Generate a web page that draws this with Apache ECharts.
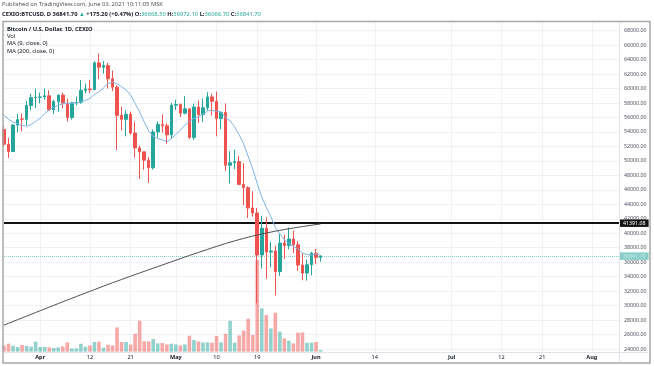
<!DOCTYPE html>
<html><head><meta charset="utf-8">
<script src="https://cdn.jsdelivr.net/npm/echarts@6/dist/echarts.min.js"></script>
<style>html,body{margin:0;padding:0;background:#fff}#c{width:654px;height:366px}</style>
</head><body><div id="c"></div>
<script>
// ---- data ----
const startDate = '2021-03-24';
const totalDays = 137; // axis runs to Aug 7
const opens  = [54350,52300,51300,54950,55800,55750,57650,58750,58800,58850,59000,57050,58200,59100,58000,56000,58050,58100,59750,59950,59850,63550,62950,63200,61350,60200,56300,55750,56450,53850,51800,51250,50100,49050,54000,55050,54850,53600,57700,57800,56600,57200,53250,57450,56400,57350,58850,58250,55850,56700,49400,49750,49900,46750,46300,43500,42800,37000,40700,37400,37550,34700,38650,38300,39200,38400,35600,34500,35650,37250,36668.5];
const highs  = [54900,53200,55100,56500,56550,58300,59300,60000,59450,60000,59750,58450,59200,59450,58600,58150,58900,61200,60700,61200,63800,64850,63800,63550,62500,60450,57500,57000,56800,55400,52100,51250,50550,54350,55450,56400,55200,58000,58450,57950,58950,57200,57900,58350,58650,59500,59300,59600,56850,57950,51350,51550,50700,49700,46500,45800,43500,42400,42200,38800,38250,39900,39800,40800,40350,38900,37250,36350,37450,37850,36972.1];
const lows   = [51900,50400,51250,53950,54100,54900,57000,57300,57950,58450,56900,56500,56800,57300,55450,55700,57650,57900,59350,59400,59800,61300,62050,60000,59650,51500,54200,53400,53650,50450,47500,48800,46950,48800,53250,53900,52350,53050,57050,56050,56450,53050,52900,55250,55400,56950,56250,53400,54400,48600,46900,48850,46650,43900,42100,42300,30300,35100,33700,35300,31400,34100,36450,37800,37250,34800,33500,33450,34200,35750,36066.7];
const closes = [52300,51300,54950,55700,55750,57650,58750,58800,58850,59000,57050,58200,59100,58000,56000,58050,58100,59750,59950,59850,63550,62950,63200,61350,60200,56300,55750,56450,53850,51800,51250,50100,49050,54000,55050,54850,53600,57700,57800,56600,57200,53250,57450,56400,57350,58850,58250,55850,56700,49400,49750,49900,46750,46300,43500,42800,37000,40700,37400,37550,34700,38650,38300,39200,38400,35600,34500,35650,37250,36666.5,36841.7];
const volumes = [60,80,60,47,67,57,50,100,47,47,43,37,43,53,93,33,33,80,50,63,97,100,40,70,63,243,97,97,70,180,310,103,103,127,83,87,73,80,73,63,73,160,117,103,93,93,90,157,93,180,310,90,163,210,330,167,917,433,367,233,390,200,133,110,83,190,193,90,90,97,17];
const ma9 = [56300,55750,55370,55130,54900,54820,55020,55470,55900,56500,57050,57400,57700,57900,57900,57950,57980,58170,58350,58650,59180,59560,60100,60680,60900,60650,60250,59800,59100,57950,56750,55400,54150,53350,53100,52920,52640,53080,53680,54250,54950,55450,55880,56120,56450,56920,57010,56850,56800,55980,55540,54700,53600,52350,50650,48900,46860,45000,43600,42300,40820,39900,39100,38600,38150,37880,37250,37050,37000,37150,36950];
const ma200 = [27300,27550,27800,28050,28300,28540,28790,29040,29290,29540,29790,30030,30280,30530,30770,31010,31250,31490,31730,31970,32210,32450,32690,32920,33150,33380,33610,33840,34060,34290,34510,34730,34950,35170,35390,35610,35830,36050,36270,36490,36710,36930,37140,37350,37560,37770,37980,38180,38380,38580,38770,38950,39120,39290,39450,39610,39760,39900,40030,40160,40280,40400,40510,40620,40730,40830,40930,41020,41110,41200,41280];
const levelLine = 41391.08;
const lastPrice = 36841.70;
const tickLabels = {'2021-04-01':'Apr','2021-04-12':'12','2021-04-21':'21','2021-05-01':'May','2021-05-10':'10','2021-05-19':'19','2021-06-01':'Jun','2021-06-14':'14','2021-07-01':'Jul','2021-07-12':'12','2021-07-21':'21','2021-08-01':'Aug'};
const monthTicks = ['Apr','May','Jun','Jul','Aug'];
const priceMin = 24000, priceMax = 68000, priceStep = 2000;
const headerLine1 = 'Published on TradingView.com, June 03, 2021 10:11:05 MSK';
const legendLines = ['Bitcoin / U.S. Dollar, 1D, CEXIO','Vol','MA (9, close, 0)','MA (200, close, 0)'];

// ---- build ----
const dates = [];
{ const d0 = new Date(startDate + 'T00:00:00Z');
  for (let i = 0; i < totalDays; i++) { const d = new Date(d0.getTime() + i*86400000); dates.push(d.toISOString().slice(0,10)); } }
const UP = '#26a69a', DOWN = '#ef5350';
const candleData = opens.map((o,i)=>[o, closes[i], lows[i], highs[i]]);
const volData = volumes.map((v,i)=>({value:v, itemStyle:{color: closes[i] >= opens[i] ? 'rgba(38,166,154,0.5)' : 'rgba(239,83,80,0.5)'}}));
const isTick = (idx, val) => tickLabels[val] !== undefined;
const FONT = 'Noto Sans';
const FS = 5.8;

const chart = echarts.init(document.getElementById('c'), null, {renderer:'canvas'});
chart.setOption({
  animation:false,
  backgroundColor:'#ffffff',
  textStyle:{fontFamily:FONT},
  grid:[
    {left:4, right:35, top:30.7, bottom:17, containLabel:false},
    {left:4, right:35, top:22, bottom:14.3, containLabel:false}
  ],
  xAxis:[
    {type:'category', gridIndex:0, data:dates, boundaryGap:false, show:false},
    {type:'category', gridIndex:1, data:dates, boundaryGap:false,
      axisLine:{show:false}, axisTick:{show:false},
      splitLine:{show:true, interval:isTick, lineStyle:{color:'#eef1f6', width:1}},
      axisLabel:{interval:isTick, margin:3, fontSize:5.6, color:'#131722', fontFamily:FONT,
        formatter:(v)=>{ const t = tickLabels[v]; if(!t) return ''; return monthTicks.includes(t) ? '{b|'+t+'}' : t; },
        rich:{b:{fontWeight:'bold', fontSize:5.6, color:'#131722', fontFamily:FONT}}}}
  ],
  yAxis:[
    {type:'value', gridIndex:0, position:'right', min:priceMin, max:priceMax, interval:priceStep,
      axisLine:{show:false}, axisTick:{show:false},
      splitLine:{show:true, lineStyle:{color:'#eef1f6', width:1}},
      axisLabel:{margin:5, fontSize:5.3, color:'#4c525e', fontFamily:FONT, formatter:(v)=>v.toFixed(2)}},
    {type:'value', gridIndex:1, min:0, max:3297, show:false, splitLine:{show:false}}
  ],
  series:[
    {type:'bar', name:'Vol', xAxisIndex:1, yAxisIndex:1, data:volData, barWidth:3.6, z:1, silent:true},
    {type:'candlestick', name:'BTCUSD', xAxisIndex:0, yAxisIndex:0, data:candleData, barWidth:3, z:5,
      itemStyle:{color:UP, color0:DOWN, borderColor:UP, borderColor0:DOWN, borderWidth:1},
      markLine:{symbol:'none', silent:true, animation:false, precision:2,
        data:[
          {yAxis:levelLine, lineStyle:{color:'#131313', width:2, type:'solid'},
            label:{show:true, position:'end', distance:1, formatter:levelLine.toFixed(2), backgroundColor:'#131313', color:'#ffffff', fontSize:5.3, padding:[1.5,3,1,3], fontFamily:FONT}},
          {yAxis:lastPrice, lineStyle:{color:'#26a69a', width:1, type:'dotted', opacity:0.55},
            label:{show:true, position:'end', distance:1, formatter:lastPrice.toFixed(2), backgroundColor:'#26a69a', color:'#ffffff', fontSize:5.3, padding:[1.5,3,1,3], fontFamily:FONT}}
        ]}},
    {type:'line', name:'MA9', xAxisIndex:0, yAxisIndex:0, data:ma9, showSymbol:false, z:6,
      lineStyle:{color:'#7fb4e6', width:1}},
    {type:'line', name:'MA200', xAxisIndex:0, yAxisIndex:0, data:ma200, showSymbol:false, z:6,
      lineStyle:{color:'#505050', width:1}}
  ],
  graphic:[
    {type:'text', x:2, y:1.5, style:{text:headerLine1, fontSize:FS, fontFamily:FONT, fill:'#555'}},
    {type:'text', x:2, y:11, style:{
      text:'{k|CEXIO:BTCUSD, D} {k|36841.70} {g|▲} {k|+175.20 (+0.47%)} {k|O:}{v|36668.50} {k|H:}{v|36972.10} {k|L:}{v|36066.70} {k|C:}{v|36841.70}',
      fontSize:FS, fontFamily:FONT, fill:'#131722',
      rich:{k:{fontSize:FS, fontFamily:FONT, fill:'#131722', fontWeight:'bold'}, g:{fontSize:FS, fill:'#26a69a'}, v:{fontSize:FS, fontFamily:FONT, fill:'#26a69a'}}}},
    {type:'rect', shape:{x:3, y:21.5, width:647, height:341.5}, style:{fill:null, stroke:'#a8a8a8', lineWidth:1.5}, z:100},
    {type:'line', shape:{x1:619.5, y1:22, x2:619.5, y2:362.5}, style:{stroke:'#e0e3eb', lineWidth:1}, z:100},
    {type:'line', shape:{x1:3.5, y1:352.5, x2:649.5, y2:352.5}, style:{stroke:'#e0e3eb', lineWidth:1}, z:100},
    {type:'text', x:7, y:26, style:{text:legendLines[0], fontSize:FS, fontWeight:'bold', fontFamily:FONT, fill:'#131722'}, z:101},
    {type:'text', x:7, y:33.3, style:{text:legendLines[1], fontSize:FS, fontFamily:FONT, fill:'#131722'}, z:101},
    {type:'text', x:7, y:40.6, style:{text:legendLines[2], fontSize:FS, fontFamily:FONT, fill:'#131722'}, z:101},
    {type:'text', x:7, y:47.9, style:{text:legendLines[3], fontSize:FS, fontFamily:FONT, fill:'#131722'}, z:101}
  ]
});
</script></body></html>
